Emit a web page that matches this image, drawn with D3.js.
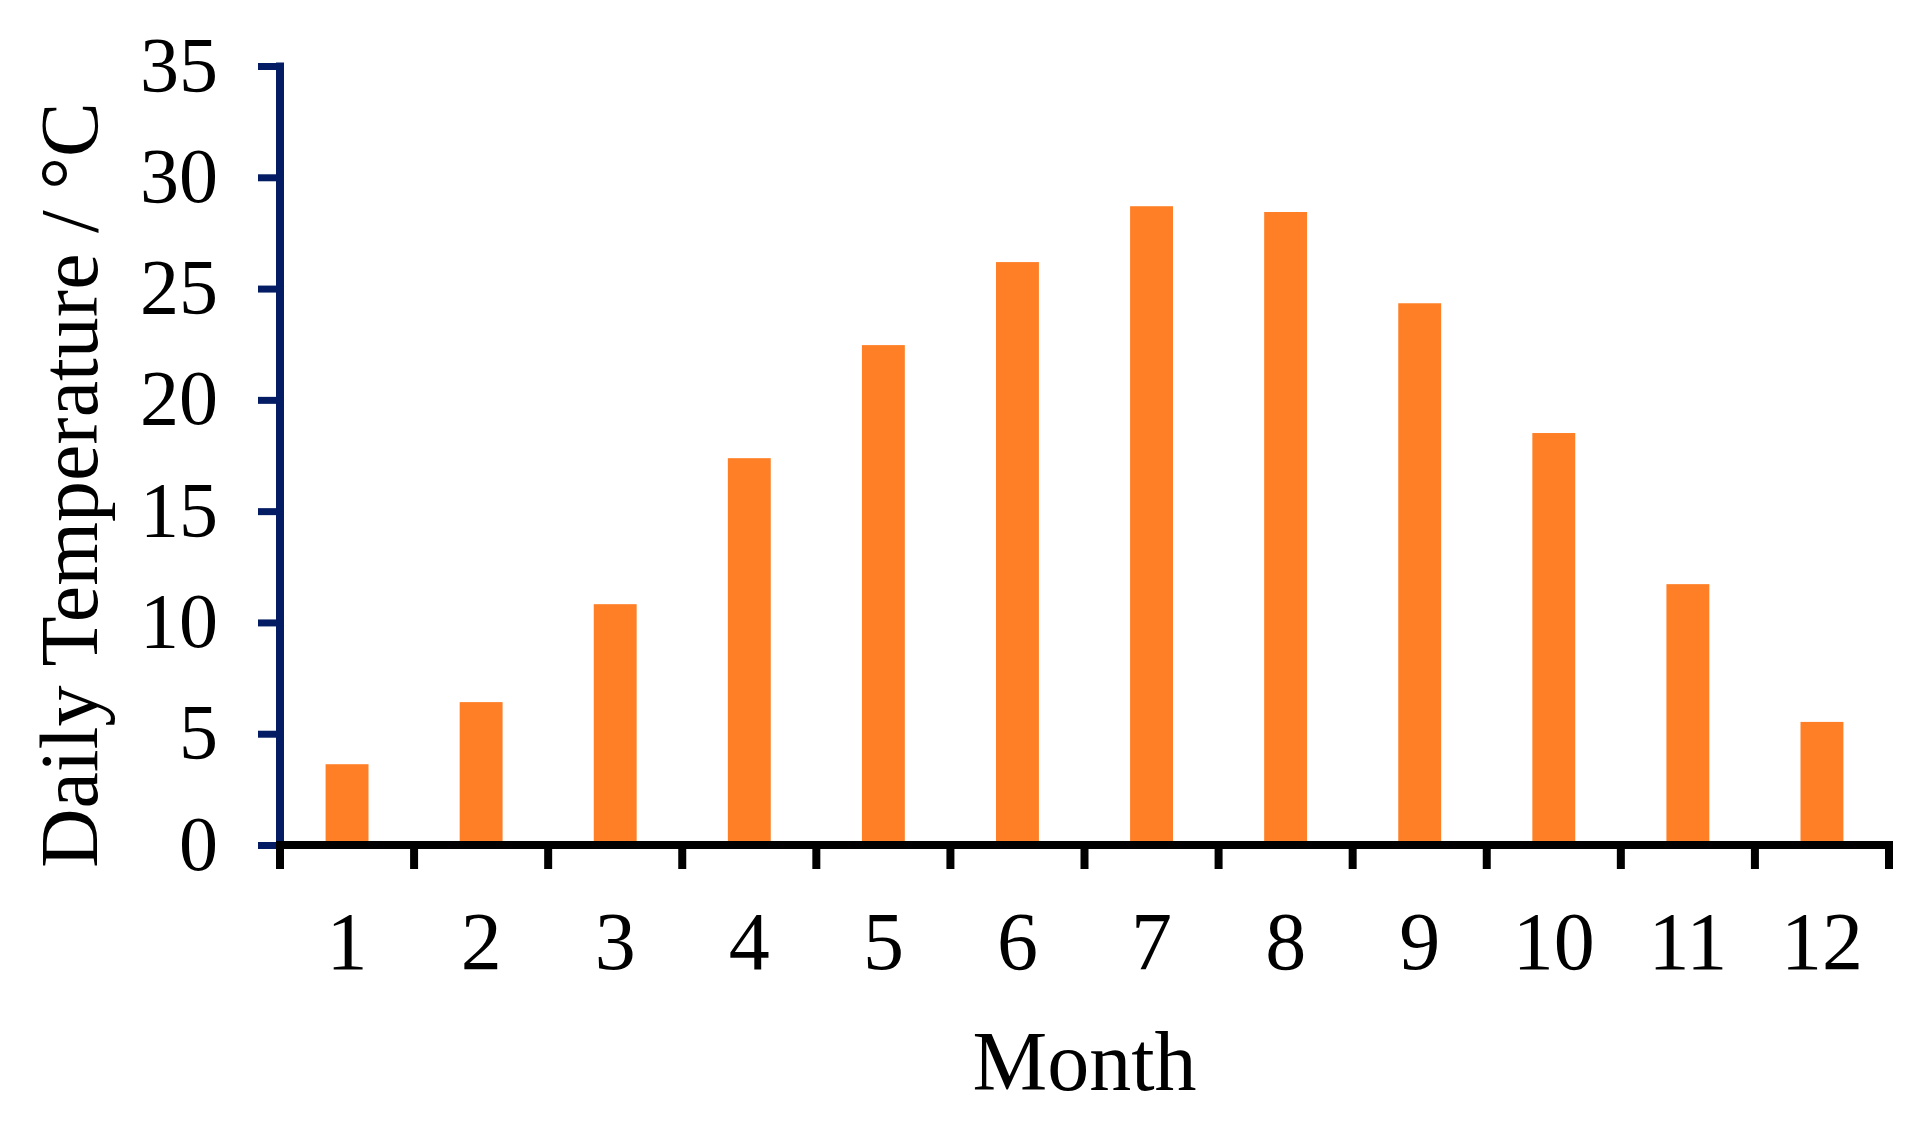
<!DOCTYPE html>
<html>
<head>
<meta charset="utf-8">
<script src="https://cdn.jsdelivr.net/npm/d3@7"></script>
<style>
  html, body { margin: 0; padding: 0; background: #ffffff; }
  svg { display: block; }
  text { font-family: "Liberation Serif", "Times New Roman", serif; fill: #000; }
</style>
</head>
<body>
<svg id="chart" width="1925" height="1126"></svg>
<script>
const months = ["1","2","3","4","5","6","7","8","9","10","11","12"];
const temps = [3.63, 6.42, 10.82, 17.38, 22.46, 26.19, 28.70, 28.44, 24.34, 18.51, 11.72, 5.53];
const yTicks = [0, 5, 10, 15, 20, 25, 30, 35];
const xTitle = "Month";
const yTitle = "Daily Temperature / °C";

(function () {
const svg = d3.select("#chart");
const pLeft = 280, pRight = 1889, pTop = 66, pBottom = 845;

const x = d3.scaleBand().domain(months).range([pLeft, pRight]).paddingInner(0.68).paddingOuter(0.34);
const xCat = d3.scaleBand().domain(months).range([pLeft, pRight]).padding(0);
const y = d3.scaleLinear().domain([0, 35]).range([pBottom, pTop]);

const navy = "#041c64";
const orange = "#ff7f27";

// bars
svg.append("g").selectAll("rect").data(temps).join("rect")
  .attr("x", (d, i) => x(months[i]))
  .attr("width", x.bandwidth())
  .attr("y", d => y(d))
  .attr("height", d => y(0) - y(d))
  .attr("fill", orange);

// y axis
const yAxis = d3.axisLeft(y).tickValues(yTicks).tickSize(22).tickPadding(40).tickFormat(d3.format("d"));
const gy = svg.append("g").attr("transform", `translate(${pLeft},0)`).call(yAxis);
gy.attr("font-family", null).attr("font-size", null);
gy.select(".domain").attr("d", `M0,${pTop - 3.5}V${pBottom + 4}`).attr("stroke", navy).attr("stroke-width", 8);
gy.selectAll(".tick line").attr("stroke", navy).attr("stroke-width", 7);
gy.selectAll(".tick text").attr("font-size", 78)
  .attr("fill", "#000").attr("dy", null).attr("y", 24);

// x axis line
const gx = svg.append("g");
gx.append("line").attr("x1", pLeft - 4).attr("x2", pRight + 4).attr("y1", pBottom).attr("y2", pBottom)
  .attr("stroke", "#000").attr("stroke-width", 8);
const bounds = months.map(m => xCat(m)).concat([xCat(months[months.length - 1]) + xCat.bandwidth()]);
gx.selectAll("line.tk").data(bounds).join("line").attr("class", "tk")
  .attr("x1", d => d).attr("x2", d => d).attr("y1", pBottom).attr("y2", pBottom + 24)
  .attr("stroke", "#000").attr("stroke-width", 8);
gx.selectAll("text").data(months).join("text")
  .attr("x", d => xCat(d) + xCat.bandwidth() / 2)
  .attr("y", 968.5)
  .attr("text-anchor", "middle")
  .attr("font-size", 82)
  .text(d => d);

// titles
svg.append("text").attr("x", (pLeft + pRight) / 2).attr("y", 1090).attr("text-anchor", "middle")
  .attr("font-size", 84).text(xTitle);
svg.append("text").attr("transform", `translate(97,485) rotate(-90)`).attr("text-anchor", "middle")
  .attr("font-size", 82).text(yTitle);
})();
</script>
</body>
</html>
